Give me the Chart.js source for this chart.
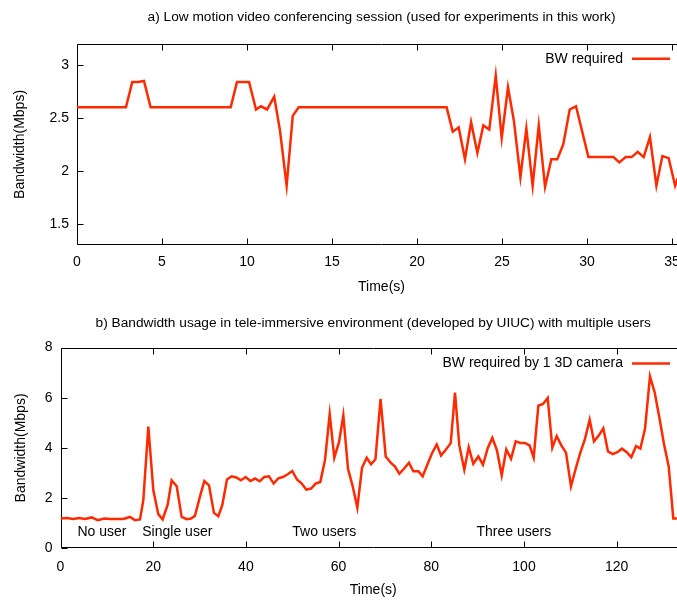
<!DOCTYPE html>
<html>
<head>
<meta charset="utf-8">
<script src="https://cdn.jsdelivr.net/npm/chart.js@4.4.1/dist/chart.umd.min.js"></script>
<style>
  html, body { margin: 0; padding: 0; background: #fff; overflow: hidden; }
  /* a figura original foi cortada: a borda direita dos graficos fica fora da janela */
  .painel { position: relative; width: 686px; }
  #painel-a { height: 300px; }
  #painel-b { height: 301px; }
</style>
</head>
<body>
<div class="painel" id="painel-a"><canvas id="grafico-a"></canvas></div>
<div class="painel" id="painel-b"><canvas id="grafico-b"></canvas></div>
<script>
// a) videoconferencia - tempo (s) e banda (Mbps)
const tempo_a = [0, 2.88, 3.25, 3.6, 3.94, 4.33, 9.04, 9.41, 10.12, 10.53, 10.82, 11.18, 11.6, 11.94,
    12.33, 12.69, 13.04, 21.74, 22.1, 22.45, 22.82, 23.18, 23.55, 23.9, 24.25, 24.63, 24.98, 25.35,
    25.7, 26.08, 26.43, 26.8, 27.16, 27.53, 27.9, 28.25, 28.6, 28.98, 29.35, 30.08, 31.55, 31.9,
    32.27, 32.62, 32.98, 33.33, 33.7, 34.08, 34.43, 34.8, 35.18, 35.55];
const banda_a = [2.6, 2.6, 2.84, 2.84, 2.85, 2.6, 2.6, 2.84, 2.84, 2.58, 2.61, 2.58, 2.70, 2.38,
    1.86, 2.52, 2.6, 2.6, 2.37, 2.41, 2.11, 2.46, 2.17, 2.43, 2.39, 2.9, 2.31, 2.79,
    2.47, 1.94, 2.40, 1.86, 2.43, 1.85, 2.11, 2.11, 2.25, 2.58, 2.61, 2.13, 2.13, 2.08,
    2.13, 2.13, 2.18, 2.13, 2.32, 1.86, 2.14, 2.12, 1.86, 2.02];
const ticks_x_a = [0, 5, 10, 15, 20, 25, 30, 35];
const ticks_y_a = [1.5, 2, 2.5, 3];

// b) tele-imersao - tempo (s) e banda (Mbps)
const tempo_b = [0, 1.33, 2.77, 4, 5.29, 6.73, 8.02, 9.46, 10.83, 12.25, 13.55, 15, 16.07, 17.15,
    17.87, 18.95, 20.03, 21.1, 22.04, 23.12, 23.98, 25.07, 26.14, 27.22, 28.15, 29.0, 30.1, 31.03,
    32.04, 33.1, 34.05, 34.9, 35.92, 36.93, 37.93, 38.94, 39.95, 40.96, 41.96, 42.97, 43.97, 44.98,
    45.99, 46.99, 48.0, 49.02, 50.01, 51.02, 52.04, 53.03, 54.05, 55.06, 56.05, 57.07, 58.08, 59.07,
    60.09, 61.02, 62.03, 63.04, 64.04, 65.05, 66.06, 67.0, 67.95, 69.05, 70.16, 71.24, 72.17, 73.1,
    74.1, 75.19, 76.12, 77.2, 78.14, 79.14, 80.15, 81.17, 82.1, 83.17, 84.19, 85.11, 86.04, 87.12,
    88.07, 89.06, 90.14, 91.15, 92.17, 93.16, 94.17, 95.19, 96.18, 97.2, 98.21, 99.2, 100.2, 101.2,
    102.09, 103.09, 104.1, 105.11, 106.11, 107.05, 108.05, 109.06, 110.14, 111.15, 112.15, 113.16,
    114.17, 115.1, 116.12, 117.11, 118.12, 119.14, 120.13, 121.14, 122.16, 123.15, 124.17, 125.1,
    126.11, 127.18, 128.2, 129.19, 130.2, 131.22, 132.21, 135];
const banda_b = [1.19, 1.21, 1.17, 1.21, 1.17, 1.23, 1.12, 1.19, 1.17, 1.17, 1.17, 1.25, 1.12, 1.15,
    1.92, 4.85, 2.31, 1.36, 1.15, 1.74, 2.71, 2.47, 1.25, 1.16, 1.19, 1.29, 2.07, 2.68,
    2.51, 1.41, 1.28, 1.72, 2.74, 2.87, 2.82, 2.71, 2.84, 2.68, 2.78, 2.67, 2.84, 2.87,
    2.58, 2.79, 2.84, 2.95, 3.08, 2.74, 2.58, 2.34, 2.38, 2.58, 2.64, 3.53, 5.35, 3.61,
    4.23, 5.3, 3.17, 2.47, 1.62, 3.21, 3.61, 3.35, 3.55, 5.95, 3.66, 3.41, 3.26, 2.97,
    3.17, 3.41, 3.07, 3.07, 2.87, 3.33, 3.79, 4.14, 3.7, 3.94, 4.19, 6.2, 4.1, 3.13,
    4.03, 3.37, 3.66, 3.33, 3.99, 4.4, 3.9, 2.91, 3.94, 3.57, 4.26, 4.2, 4.2, 4.1,
    3.61, 5.68, 5.75, 5.99, 4.01, 4.47, 4.1, 3.81, 2.47, 3.17, 3.81, 4.36,
    5.12, 4.26, 4.49, 4.78, 3.86, 3.75, 3.83, 3.97, 3.83, 3.63, 4.07, 3.97,
    4.76, 6.85, 6.21, 5.22, 4.16, 3.26, 1.19, 1.19];
const ticks_x_b = [0, 20, 40, 60, 80, 100, 120];
const ticks_y_b = [0, 2, 4, 6, 8];

// rotulos das fases do experimento
const fases_texto = ['No user', 'Single user', 'Two users', 'Three users'];
const fases_tempo = [8.95, 25.2, 56.9, 97.8];
const fases_banda = [0.65, 0.65, 0.65, 0.65];

const FONTE = '"Liberation Sans", Arial, sans-serif';
const COR_LINHA = '#ff2a00';

const moldura = {
    id: 'moldura',
    beforeDatasetsDraw(chart) {
        const { ctx, chartArea: a, scales: { x, y } } = chart;
        const L = Math.round(a.left) + 0.5;
        const T = Math.round(a.top) + 0.5;
        const B = Math.round(a.bottom) - 0.5;
        const R = Math.round(a.right) - 0.5;
        ctx.save();
        ctx.strokeStyle = '#000';
        ctx.lineWidth = 1;
        ctx.beginPath();
        ctx.moveTo(R, T);
        ctx.lineTo(L, T);
        ctx.lineTo(L, B);
        ctx.lineTo(R, B);
        ctx.closePath();
        x.ticks.forEach(t => {
            const px = Math.round(x.getPixelForValue(t.value)) + 0.5;
            ctx.moveTo(px, B); ctx.lineTo(px, B - 6);
            ctx.moveTo(px, T); ctx.lineTo(px, T + 6);
        });
        y.ticks.forEach(t => {
            const py = Math.round(y.getPixelForValue(t.value)) + 0.5;
            ctx.moveTo(L, py); ctx.lineTo(L + 6, py);
            ctx.moveTo(R, py); ctx.lineTo(R - 6, py);
        });
        ctx.stroke();
        ctx.restore();
    }
};

const legenda = {
    id: 'legenda',
    afterDatasetsDraw(chart, args, opts) {
        const { ctx, chartArea: a } = chart;
        const ds = chart.data.datasets[0];
        const y = a.top + opts.dy;
        ctx.save();
        ctx.font = opts.tamanho + 'px ' + FONTE;
        ctx.fillStyle = '#000';
        ctx.textAlign = 'right';
        ctx.textBaseline = 'middle';
        ctx.fillText(ds.label, a.right - 63, y);
        ctx.strokeStyle = ds.borderColor;
        ctx.lineWidth = ds.borderWidth;
        ctx.beginPath();
        ctx.moveTo(a.right - 54, y);
        ctx.lineTo(a.right - 16, y);
        ctx.stroke();
        ctx.restore();
    }
};

const rotulos = {
    id: 'rotulos',
    afterDatasetsDraw(chart, args, opts) {
        if (!opts.textos) return;
        const { ctx, scales: { x, y } } = chart;
        ctx.save();
        ctx.font = opts.tamanho + 'px ' + FONTE;
        ctx.fillStyle = '#000';
        ctx.textAlign = 'center';
        ctx.textBaseline = 'middle';
        opts.textos.forEach((txt, i) => {
            ctx.fillText(txt, x.getPixelForValue(opts.xs[i]), y.getPixelForValue(opts.ys[i]));
        });
        ctx.restore();
    }
};

function criar_grafico(canvas, cfg) {
    const fonte_eixo = { family: FONTE, size: 14 };
    const pontos = cfg.tempo.map((t, i) => ({ x: t, y: cfg.banda[i] }));

    return new Chart(canvas, {
        type: 'line',
        data: {
            datasets: [{
                label: cfg.legenda,
                data: pontos,
                borderColor: COR_LINHA,
                borderWidth: 2.5,
                pointRadius: 0,
                tension: 0,
                fill: false
            }]
        },
        options: {
            responsive: true,
            maintainAspectRatio: false,
            animation: false,
            layout: { padding: 0 },
            plugins: {
                legend: { display: false },
                tooltip: { enabled: false },
                title: {
                    display: true,
                    fullSize: false,
                    text: cfg.titulo,
                    color: '#000',
                    font: { family: FONTE, size: 13.7, weight: 'normal' },
                    padding: cfg.pad_titulo
                },
                legenda: { dy: cfg.legenda_dy, tamanho: 14 },
                rotulos: cfg.rotulos || {}
            },
            scales: {
                x: {
                    type: 'linear',
                    min: cfg.x_min,
                    max: cfg.x_max,
                    afterBuildTicks: s => { s.ticks = cfg.ticks_x.map(v => ({ value: v })); },
                    afterFit: s => { s.height = cfg.altura_x; s.paddingLeft = 0; s.paddingRight = 0; },
                    grid: { display: false, drawTicks: false },
                    border: { display: false },
                    ticks: {
                        color: '#000', font: fonte_eixo, padding: cfg.pad_ticks_x,
                        maxRotation: 0, autoSkip: false, callback: v => String(v)
                    },
                    title: {
                        display: true, text: 'Time(s)', color: '#000', font: fonte_eixo,
                        padding: { top: 0, bottom: cfg.pad_titulo_x }
                    }
                },
                y: {
                    min: cfg.y_min,
                    max: cfg.y_max,
                    afterBuildTicks: s => { s.ticks = cfg.ticks_y.map(v => ({ value: v })); },
                    afterFit: s => { s.width = cfg.largura_y; s.paddingTop = 0; s.paddingBottom = 0; },
                    grid: { display: false, drawTicks: false },
                    border: { display: false },
                    ticks: {
                        color: '#000', font: fonte_eixo, padding: 8,
                        autoSkip: false, callback: v => String(v)
                    },
                    title: {
                        display: true, text: 'Bandwidth(Mbps)', color: '#000', font: fonte_eixo,
                        padding: { top: cfg.pad_titulo_y, bottom: 0 }
                    }
                }
            }
        },
        plugins: [moldura, legenda, rotulos]
    });
}

criar_grafico(document.getElementById('grafico-a'), {
    tempo: tempo_a, banda: banda_a,
    titulo: 'a) Low motion video conferencing session (used for experiments in this work)',
    legenda: 'BW required',
    pad_titulo: { top: 9.2, bottom: 18.2 },
    legenda_dy: 15,
    x_min: 0, x_max: 35.82, y_min: 1.3, y_max: 3.2,
    ticks_x: ticks_x_a, ticks_y: ticks_y_a,
    altura_x: 55, largura_y: 77,
    pad_ticks_x: 8.3, pad_titulo_x: 4.6, pad_titulo_y: 11.6
});

criar_grafico(document.getElementById('grafico-b'), {
    tempo: tempo_b, banda: banda_b,
    titulo: 'b) Bandwidth usage in tele-immersive environment (developed by UIUC) with multiple users',
    legenda: 'BW required by 1 3D camera',
    pad_titulo: { top: 14.9, bottom: 16.2 },
    legenda_dy: 16,
    x_min: 0, x_max: 134.95, y_min: 0, y_max: 8,
    ticks_x: ticks_x_b, ticks_y: ticks_y_b,
    altura_x: 52.7, largura_y: 60.5,
    pad_ticks_x: 10, pad_titulo_x: 2.6, pad_titulo_y: 12.6,
    rotulos: { textos: fases_texto, xs: fases_tempo, ys: fases_banda, tamanho: 14 }
});
</script>
</body>
</html>
